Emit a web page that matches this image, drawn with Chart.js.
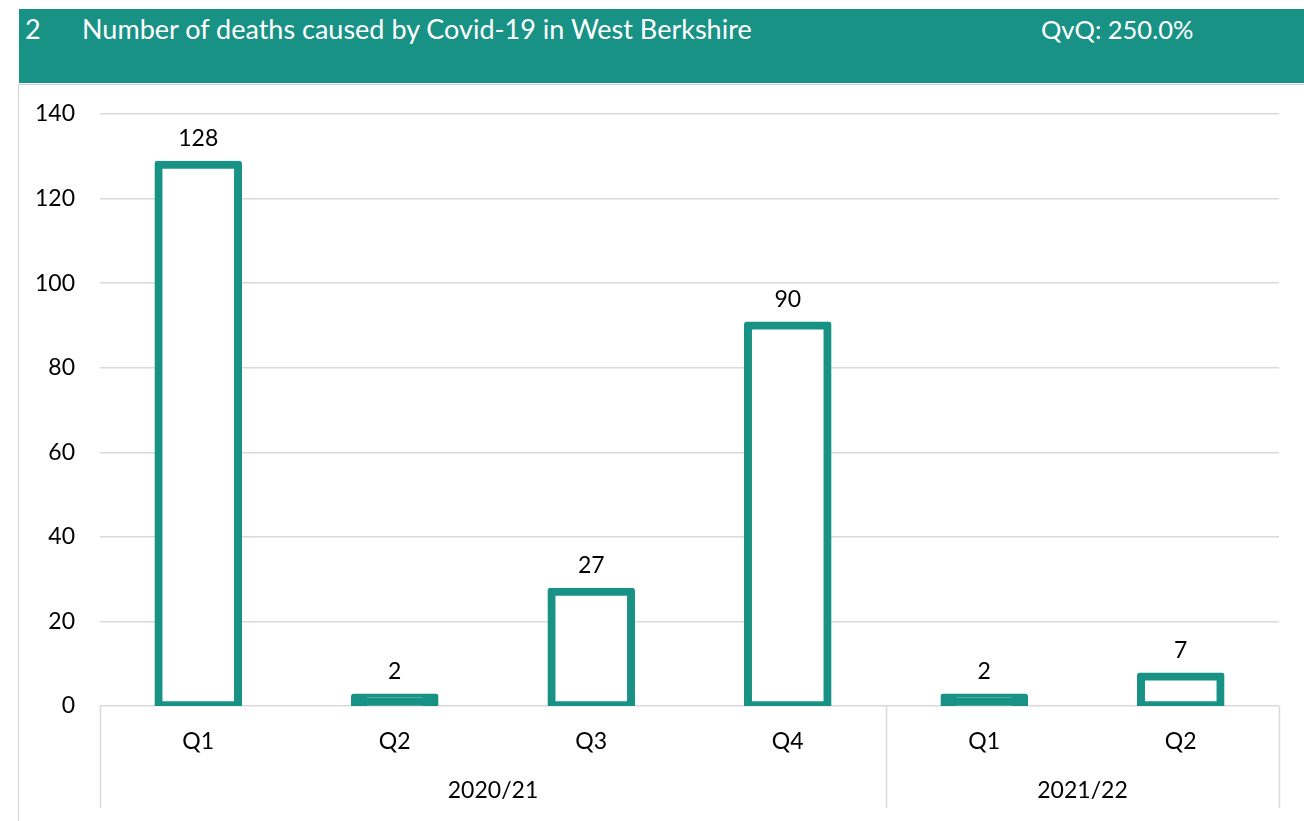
<!DOCTYPE html>
<html>
<head>
<meta charset="utf-8">
<script src="https://cdn.jsdelivr.net/npm/chart.js@4.4.1/dist/chart.umd.min.js"></script>
<style>
  html, body { margin: 0; padding: 0; background: #fff; width: 1304px; height: 821px; overflow: hidden; }
  #wrap { position: relative; width: 1304px; height: 821px; }
  #chart { position: absolute; left: 0; top: 0; }
  #header { position: absolute; left: 19px; top: 9px; width: 1285px; height: 74px; background: #199286;
            font-family: Lato, "Open Sans", sans-serif; color: #fff; font-size: 27px; }
  #header span { position: absolute; top: 3px; line-height: 34px; white-space: nowrap; }
  #box { position: absolute; left: 18px; top: 84px; width: 1290px; height: 740px;
         border-left: 1px solid #d4d4d4; border-top: 1px solid #c9d9d6; }
</style>
</head>
<body>
<div id="wrap">
  <canvas id="chart" width="1304" height="821"></canvas>
  <div id="box"></div>
  <div id="header">
    <span style="left:6px">2</span>
    <span style="left:63px">Number of deaths caused by Covid-19 in West Berkshire</span>
    <span style="left:1022px; font-size:25.5px">QvQ: 250.0%</span>
  </div>
</div>
<script>
const quarters = ["Q1", "Q2", "Q3", "Q4", "Q1", "Q2"];
const years = ["2020/21", "2021/22"];
const yearSpans = [4, 2];
const deaths = [128, 2, 27, 90, 2, 7];
const yTicks = [0, 20, 40, 60, 80, 100, 120, 140];

const TEAL = "#199286";
const GRID = "#d9d9d9";
const FONT = "Lato, 'Open Sans', sans-serif";
const BORDER = 8;

const extrasPlugin = {
  id: "extras",
  afterDatasetsDraw(chart) {
    const ctx = chart.ctx;
    const meta = chart.getDatasetMeta(0);
    ctx.save();
    ctx.fillStyle = "#000";
    ctx.font = "23px " + FONT;
    ctx.textAlign = "center";
    ctx.textBaseline = "middle";
    meta.data.forEach((bar, i) => {
      ctx.fillText(String(deaths[i]), bar.x, bar.y - 26);
    });
    ctx.restore();
  },
  afterDraw(chart) {
    const ctx = chart.ctx;
    const xs = chart.scales.x;
    const area = chart.chartArea;
    const half = (xs.getPixelForValue(1) - xs.getPixelForValue(0)) / 2;
    const bottom = 808;
    ctx.save();
    ctx.strokeStyle = GRID;
    ctx.lineWidth = 1.5;
    let idx = 0;
    const bounds = [xs.getPixelForValue(0) - half];
    yearSpans.forEach(n => { idx += n; bounds.push(xs.getPixelForValue(idx - 1) + half); });
    bounds.forEach(bx => {
      ctx.beginPath();
      ctx.moveTo(Math.round(bx) + 0.5, area.bottom);
      ctx.lineTo(Math.round(bx) + 0.5, bottom);
      ctx.stroke();
    });
    ctx.fillStyle = "#000";
    ctx.font = "23px " + FONT;
    ctx.textAlign = "center";
    ctx.textBaseline = "middle";
    years.forEach((y, i) => {
      ctx.fillText(y, (bounds[i] + bounds[i + 1]) / 2, 791);
    });
    ctx.restore();
  }
};

new Chart(document.getElementById("chart"), {
  type: "bar",
  data: {
    labels: quarters,
    datasets: [{
      data: deaths,
      backgroundColor(c) {
        const ys = c.chart.scales.y;
        if (!ys || c.parsed == null) return "#ffffff";
        const h = ys.getPixelForValue(0) - ys.getPixelForValue(c.parsed.y);
        return h < BORDER * 2 ? TEAL : "#ffffff";
      },
      borderColor: TEAL,
      borderWidth: BORDER,
      inflateAmount: BORDER / 2,
      borderSkipped: false,
      borderRadius: 3,
      barPercentage: 0.405,
      categoryPercentage: 1.0
    }]
  },
  options: {
    responsive: false,
    animation: false,
    devicePixelRatio: 1,
    layout: { padding: { top: 114, right: 25, left: 0, bottom: 0 } },
    plugins: { legend: { display: false }, tooltip: { enabled: false } },
    scales: {
      x: {
        grid: { display: false, drawTicks: false },
        border: { display: false },
        ticks: { color: "#000", font: { family: FONT, size: 23 }, padding: 22, maxRotation: 0 },
        afterFit(scale) { scale.height = 115; }
      },
      y: {
        min: 0, max: 140,
        afterBuildTicks(scale) { scale.ticks = yTicks.map(v => ({ value: v })); },
        grid: { color: GRID, lineWidth: 1.5, drawTicks: false },
        border: { display: false },
        ticks: { color: "#000", font: { family: FONT, size: 23 }, padding: 25 },
        afterFit(scale) { scale.width = 100; }
      }
    }
  },
  plugins: [extrasPlugin]
});
</script>
</body>
</html>
